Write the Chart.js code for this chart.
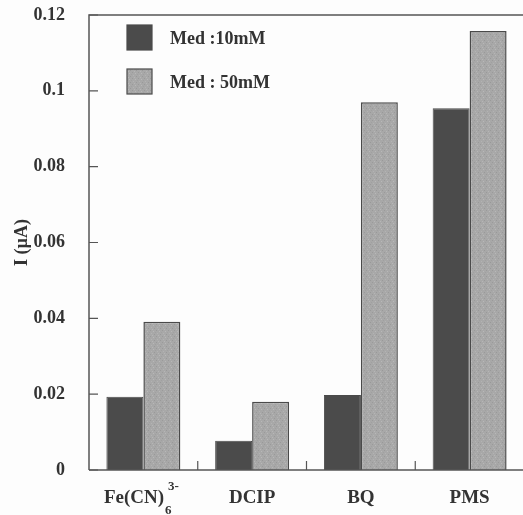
<!DOCTYPE html>
<html>
<head>
<meta charset="utf-8">
<script src="https://cdn.jsdelivr.net/npm/chart.js@4/dist/chart.umd.min.js"></script>
<style>
  html, body { margin: 0; padding: 0; background: #fdfdfd; overflow: hidden; }
  #wrap { width: 524px; height: 515px; }
</style>
</head>
<body>
<div id="wrap"><canvas id="chart" width="524" height="515"></canvas></div>
<script>
// data
var categories = ['Fe(CN)6 3-', 'DCIP', 'BQ', 'PMS'];
var med10 = [0.0193, 0.0077, 0.0198, 0.0954];
var med50 = [0.0391, 0.0180, 0.0970, 0.1158];
var seriesNames = ['Med :10mM', 'Med : 50mM'];
var yTicks = [0, 0.02, 0.04, 0.06, 0.08, 0.1, 0.12];

var serif = '"Liberation Serif", "DejaVu Serif", serif';
var darkFill = '#4b4b4b';
var lightFill = '#a8a8a8';
var edge = '#4a4a4a';

// speckled grey, like the scanned print
function makeSpeckle(){
    var c = document.createElement('canvas');
    c.width = 6; c.height = 6;
    var g = c.getContext('2d');
    g.fillStyle = lightFill;
    g.fillRect(0, 0, 6, 6);
    var dots = [[0,0,'#9a9a9a'],[3,1,'#b8b8b8'],[1,3,'#b3b3b3'],[4,4,'#999999'],[5,2,'#a0a0a0'],[2,5,'#b6b6b6']];
    dots.forEach(function(d){ g.fillStyle = d[2]; g.fillRect(d[0], d[1], 1, 1); });
    return g.createPattern(c, 'repeat');
}

var extras = {
    id: 'extras',
    afterDraw: function(chart){
        var ctx = chart.ctx;
        var a = chart.chartArea;
        var x = chart.scales.x, y = chart.scales.y;
        ctx.save();
        ctx.strokeStyle = '#555';
        ctx.lineWidth = 1.5;
        // frame
        ctx.beginPath();
        ctx.moveTo(a.left, a.bottom);
        ctx.lineTo(a.left, a.top);
        ctx.lineTo(a.right, a.top);
        ctx.moveTo(a.left, a.bottom);
        ctx.lineTo(a.right, a.bottom);
        ctx.stroke();
        // inward ticks
        ctx.lineWidth = 1.2;
        ctx.beginPath();
        yTicks.forEach(function(v){
            var py = y.getPixelForValue(v);
            ctx.moveTo(a.left, py);
            ctx.lineTo(a.left + 9, py);
        });
        for (var i = 1; i < categories.length; i++){
            var px = (x.getPixelForValue(i - 1) + x.getPixelForValue(i)) / 2;
            ctx.moveTo(px, a.bottom);
            ctx.lineTo(px, a.bottom - 9);
        }
        ctx.stroke();

        // category labels, with sub/superscript for the ferricyanide
        ctx.fillStyle = '#333';
        ctx.textBaseline = 'alphabetic';
        categories.forEach(function(name, i){
            var cx = x.getPixelForValue(i);
            var base = a.bottom + 33;
            var parts = name.split(' ');
            var main = parts[0], sup = parts[1];
            var sub = '';
            var m = main.match(/^(.*\))(\d+)$/);
            if (m){ main = m[1]; sub = m[2]; }
            ctx.font = 'bold 19px ' + serif;
            var wMain = ctx.measureText(main).width;
            ctx.font = 'bold 13px ' + serif;
            var wSub = sub ? ctx.measureText(sub).width : 0;
            var wSup = sup ? ctx.measureText(sup).width : 0;
            var total = wMain + Math.max(wSub, wSup);
            var sx = cx - total / 2 - (sub ? 4 : 0);
            ctx.textAlign = 'left';
            ctx.font = 'bold 19px ' + serif;
            ctx.fillText(main, sx, base);
            ctx.font = 'bold 13px ' + serif;
            if (sub) ctx.fillText(sub, sx + wMain + 1, base + 11);
            if (sup) ctx.fillText(sup, sx + wMain + 4, base - 13);
        });

        // legend inside the plot
        var items = chart.data.datasets;
        items.forEach(function(ds, i){
            var ly = a.top + 10 + i * 44;
            ctx.fillStyle = ds.backgroundColor;
            ctx.fillRect(a.left + 38, ly, 25, 25);
            ctx.strokeStyle = edge;
            ctx.lineWidth = 1.2;
            ctx.strokeRect(a.left + 38, ly, 25, 25);
            ctx.fillStyle = '#333';
            ctx.font = 'bold 18px ' + serif;
            ctx.textAlign = 'left';
            ctx.textBaseline = 'middle';
            ctx.fillText(ds.label, a.left + 81, ly + 14);
        });
        ctx.restore();
    }
};

var config = {
    type: 'bar',
    data: {
        labels: categories,
        datasets: [{
            label: seriesNames[0],
            data: med10,
            backgroundColor: darkFill,
            borderColor: edge,
            borderWidth: 1,
            categoryPercentage: 0.68,
            barPercentage: 1
        }, {
            label: seriesNames[1],
            data: med50,
            backgroundColor: makeSpeckle(),
            borderColor: edge,
            borderWidth: 1.5,
            categoryPercentage: 0.68,
            barPercentage: 1
        }]
    },
    options: {
        responsive: false,
        animation: false,
        layout: { padding: { top: 15, right: 0, left: 0, bottom: 0 } },
        plugins: {
            legend: { display: false },
            tooltip: { enabled: false }
        },
        scales: {
            x: {
                grid: { display: false },
                border: { display: false },
                ticks: { display: false },
                afterFit: function(s){ s.height = 45; s.paddingLeft = 0; s.paddingRight = 0; }
            },
            y: {
                min: 0,
                max: 0.12,
                grid: { display: false },
                border: { display: false },
                afterBuildTicks: function(s){ s.ticks = yTicks.map(function(v){ return { value: v }; }); },
                ticks: {
                    padding: 16,
                    color: '#333',
                    font: { family: serif, size: 18, weight: 'bold' },
                    callback: function(v){ return String(+v.toFixed(2)); }
                },
                title: {
                    display: true,
                    text: 'I (µA)',
                    color: '#333',
                    padding: { top: 12, bottom: 0 },
                    font: { family: serif, size: 18, weight: 'bold' }
                },
                afterFit: function(s){ s.width = 89; s.paddingTop = 0; s.paddingBottom = 0; }
            }
        }
    },
    plugins: [extras]
};

new Chart(document.getElementById('chart'), config);
</script>
</body>
</html>
